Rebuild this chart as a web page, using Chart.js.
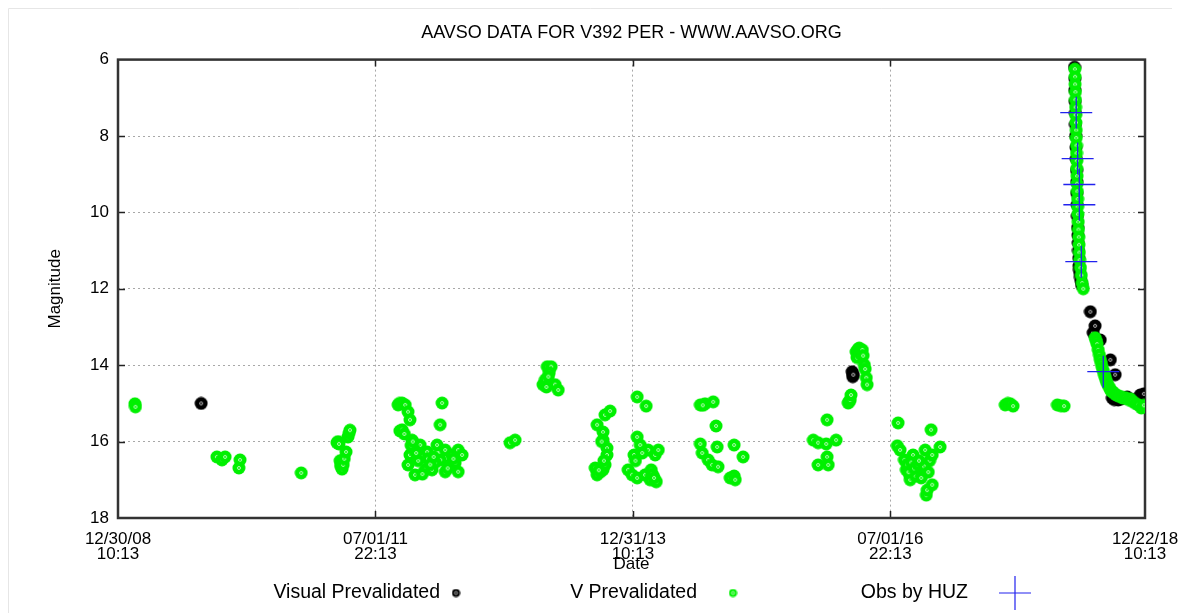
<!DOCTYPE html>
<html>
<head>
<meta charset="utf-8">
<title>V392 Per light curve</title>
<script src="https://cdn.jsdelivr.net/npm/chart.js@4.4.0/dist/chart.umd.min.js"></script>
<style>
  html, body { margin: 0; padding: 0; background: #fff; }
</style>
</head>
<body>
<canvas id="lightCurve" width="1183" height="613"></canvas>
<script>
// days counted from 12/30/08 10:13
const xTickDays = [0, 913.5, 1827, 2740.5, 3644];
const xTickLabels = [
  ['12/30/08', '10:13'],
  ['07/01/11', '22:13'],
  ['12/31/13', '10:13'],
  ['07/01/16', '22:13'],
  ['12/22/18', '10:13']
];
const yTicks = [6, 8, 10, 12, 14, 16, 18];

// Visual Prevalidated (black)
const visualDays = [295, 2605, 2607, 2609,
  3394, 3395, 3395, 3396, 3397, 3397, 3398, 3399, 3400, 3401, 3402, 3402, 3403, 3404, 3405,
  3406, 3407, 3408, 3409, 3410, 3411, 3413, 3415, 3417, 3419,
  3450, 3460, 3467, 3485, 3521, 3538, 3528, 3535, 3549, 3560, 3581, 3600, 3627, 3640];
const visualMags = [15.0, 14.17, 14.30, 14.25,
  6.2, 6.5, 6.8, 7.1, 7.4, 7.7, 8.0, 8.3, 8.6, 8.9, 9.2, 9.5, 9.8, 10.1, 10.4,
  10.6, 10.8, 11.0, 11.2, 11.4, 11.5, 11.6, 11.7, 11.8, 11.9,
  12.60, 13.15, 12.97, 13.34, 13.86, 14.25, 14.86, 14.90, 14.91, 14.88, 14.83, 14.90, 14.78, 14.75];

// V Prevalidated (green)
const vDays = [60, 62, 351, 369, 380, 433, 429, 650,
  777, 781, 784, 788, 790, 792, 795, 799, 803, 809, 816, 820, 823,
  994, 998, 1008, 1019, 1029, 1036, 1000, 1008, 1016, 1043, 1036, 1029, 1054, 1072, 1090, 1097, 1114, 1132,
  1143, 1150, 1143, 1161, 1161, 1178, 1185, 1196, 1207, 1207, 1221, 1065, 1080, 1125, 1050, 1058,
  1100, 1108, 1120, 1170, 1190, 1040, 1046,
  1391, 1409,
  1508, 1523, 1537, 1530, 1516, 1520, 1551, 1562, 1527,
  1693, 1700, 1700, 1711, 1721, 1721, 1721, 1728, 1728, 1735, 1735, 1746, 1716, 1724, 1706,
  1810, 1824, 1831, 1842, 1842, 1842, 1853, 1870, 1874, 1881, 1888, 1892, 1899, 1906, 1906, 1910, 1917,
  1836, 1860, 1895, 1902,
  2066, 2066, 2073, 2083, 2094, 2108, 2112, 2122, 2126, 2129, 2172, 2186, 2186, 2190, 2218, 2075,
  2467, 2484, 2484, 2513, 2516, 2516, 2520, 2548,
  2591, 2595, 2598, 2601, 2619, 2622, 2626, 2630, 2633, 2637, 2641, 2644, 2648, 2651, 2655, 2658,
  2765, 2768, 2775, 2790, 2797, 2800, 2810, 2811, 2821, 2830, 2846, 2855, 2864, 2868, 2871, 2880,
  2885, 2889, 2889, 2917, 2805, 2815, 2825, 2838, 2850, 2860, 2875, 2842,
  3148, 3157, 3166, 3176, 3333, 3345, 3357,
  3395, 3396, 3396, 3397, 3397, 3398, 3398, 3399, 3400, 3400, 3401, 3401, 3402, 3402, 3403, 3403,
  3404, 3405, 3405, 3406, 3407, 3408, 3409, 3410, 3411, 3412, 3415, 3418, 3421, 3425,
  3467, 3471, 3474, 3478, 3482, 3485, 3489, 3492, 3496, 3500, 3503, 3506, 3510, 3515, 3520, 3524,
  3530, 3535, 3542, 3549, 3557, 3566, 3575, 3585, 3592, 3600, 3610, 3620, 3631, 3640];
const vMags = [15.01, 15.09, 16.40, 16.48, 16.40, 16.48, 16.69, 16.82,
  16.03, 16.00, 16.06, 16.50, 16.60, 16.66, 16.72, 16.61, 16.45, 16.27, 15.88, 15.78, 15.70,
  15.04, 15.00, 14.99, 15.04, 15.22, 15.43, 15.72, 15.69, 15.80, 15.96, 16.35, 16.61, 16.87, 16.09, 16.74, 16.27, 16.74, 16.09,
  15.56, 14.99, 16.48, 16.22, 16.79, 16.61, 16.35, 16.56, 16.22, 16.79, 16.35, 16.50, 16.85, 16.55, 16.20, 16.30,
  16.45, 16.60, 16.40, 16.70, 16.45, 16.10, 16.00,
  16.03, 15.96,
  14.51, 14.04, 14.04, 14.20, 14.38, 14.57, 14.51, 14.65, 14.30,
  16.69, 15.56, 16.87, 16.80, 15.75, 15.96, 16.74, 15.30, 16.61, 16.17, 16.35, 15.20, 16.00, 16.50, 16.75,
  16.74, 16.87, 16.35, 14.83, 15.88, 16.95, 16.09, 16.87, 15.07, 16.22, 17.00, 16.74, 16.90, 16.35, 17.02, 17.05, 16.22,
  16.50, 16.30, 16.85, 16.95,
  15.04, 16.06, 16.30, 15.01, 16.48, 16.61, 14.96, 15.59, 16.14, 16.66, 16.95, 16.09, 16.90, 17.00, 16.40, 15.05,
  15.96, 16.03, 16.61, 16.06, 15.43, 16.40, 16.61, 15.96,
  14.99, 14.95, 14.91, 14.78, 13.65, 13.80, 13.58, 13.55, 13.70, 13.62, 13.60, 13.75, 13.99, 14.10, 14.33, 14.51,
  16.11, 15.51, 16.22, 16.48, 16.74, 16.60, 16.90, 17.00, 16.35, 16.90, 16.74, 16.85, 16.22, 17.40, 17.27, 16.50,
  15.69, 16.35, 17.13, 16.14, 16.80, 16.55, 16.70, 16.60, 16.95, 16.65, 16.80, 16.50,
  15.04, 15.00, 15.01, 15.07, 15.04, 15.06, 15.07,
  6.25, 6.45, 6.65, 6.85, 7.05, 7.25, 7.45, 7.65, 7.85, 8.05, 8.25, 8.45, 8.65, 8.85, 9.05, 9.25,
  9.45, 9.65, 9.85, 10.05, 10.25, 10.45, 10.65, 10.85, 11.05, 11.25, 11.45, 11.65, 11.85, 12.00,
  13.28, 13.36, 13.45, 13.60, 13.73, 13.85, 13.95, 14.05, 14.15, 14.25, 14.32, 14.40, 14.48, 14.55, 14.62, 14.68,
  14.70, 14.74, 14.78, 14.80, 14.82, 14.86, 14.85, 14.90, 14.88, 14.95, 15.00, 15.04, 15.12, 15.05];

// Obs by HUZ (blue crosses)
const huzDays = [3400, 3405, 3411, 3411, 3418, 3496];
const huzMags = [7.39, 8.59, 9.27, 9.80, 11.29, 14.17];

const pairs = (xs, ys) => xs.map((x, i) => ({ x: x, y: ys[i] }));

function makeMarker(fill, size) {
  const c = document.createElement('canvas');
  c.width = c.height = size;
  const g = c.getContext('2d');
  const r = size / 2;
  g.fillStyle = fill;
  g.beginPath();
  g.arc(r, r, r - 0.5, 0, Math.PI * 2);
  g.fill();
  g.strokeStyle = 'rgba(255,255,255,0.7)';
  g.lineWidth = 1;
  g.beginPath();
  g.arc(r, r, 1.5, 0, Math.PI * 2);
  g.stroke();
  return c;
}

const GREEN = '#00f000';
const BLUE = '#2222ee';
const greenDot = makeMarker(GREEN, 14);
const blackDot = makeMarker('#000000', 14);
const greenKey = makeMarker(GREEN, 9);
const blackKey = makeMarker('#000000', 9);

const FONT = '"Liberation Sans", Arial, sans-serif';
Chart.defaults.font.family = FONT;
Chart.defaults.color = '#000';

// frame with inward tick marks, like the original plot
const frame = {
  id: 'frame',
  beforeDraw(chart) {
    const c = chart.ctx;
    c.save();
    c.fillStyle = '#fff';
    c.fillRect(0, 0, chart.width, chart.height);
    // faint page edge seen at the top left of the original
    c.strokeStyle = '#e6e6e6';
    c.lineWidth = 1;
    c.beginPath();
    c.moveTo(8.5, chart.height); c.lineTo(8.5, 8.5); c.lineTo(1172, 8.5);
    c.stroke();
    c.restore();
  },
  beforeDatasetsDraw(chart) {
    const { ctx, chartArea: a, scales } = chart;
    ctx.save();
    ctx.strokeStyle = '#222';
    ctx.lineWidth = 1.5;
    xTickDays.slice(1, -1).forEach(d => {
      const px = Math.round(scales.x.getPixelForValue(d)) + 0.5;
      ctx.beginPath();
      ctx.moveTo(px, a.bottom); ctx.lineTo(px, a.bottom - 7);
      ctx.moveTo(px, a.top); ctx.lineTo(px, a.top + 7);
      ctx.stroke();
    });
    yTicks.slice(1, -1).forEach(m => {
      const py = Math.round(scales.y.getPixelForValue(m)) + 0.5;
      ctx.beginPath();
      ctx.moveTo(a.left, py); ctx.lineTo(a.left + 7, py);
      ctx.moveTo(a.right, py); ctx.lineTo(a.right - 7, py);
      ctx.stroke();
    });
    ctx.strokeStyle = '#333';
    ctx.lineWidth = 2.5;
    ctx.strokeRect(a.left, a.top, a.right - a.left, a.bottom - a.top);
    ctx.restore();
  }
};

// legend in the gnuplot layout: text first, sample after it
const keyRow = {
  id: 'keyRow',
  afterDraw(chart) {
    const ctx = chart.ctx;
    const y = 593;
    const items = [
      { textRight: 440, symX: 456, img: blackKey },
      { textRight: 697, symX: 733, img: greenKey },
      { textRight: 968, symX: 1015, cross: true }
    ];
    ctx.save();
    ctx.font = '19.5px ' + FONT;
    ctx.fillStyle = '#000';
    ctx.textAlign = 'right';
    ctx.textBaseline = 'middle';
    chart.data.datasets.forEach((ds, i) => {
      const it = items[i];
      ctx.fillText(ds.label, it.textRight, y);
      if (it.cross) {
        ctx.strokeStyle = BLUE;
        ctx.lineWidth = 1.2;
        ctx.beginPath();
        ctx.moveTo(it.symX - 16, y); ctx.lineTo(it.symX + 16, y);
        ctx.moveTo(it.symX, y - 17); ctx.lineTo(it.symX, y + 17);
        ctx.stroke();
      } else {
        ctx.drawImage(it.img, it.symX - it.img.width / 2, y - it.img.height / 2);
      }
    });
    ctx.restore();
  }
};

const gridColor = ends => ctx => (ends.includes(ctx.tick.value) ? 'rgba(0,0,0,0)' : '#a8a8a8');

new Chart(document.getElementById('lightCurve'), {
  type: 'scatter',
  data: {
    datasets: [
      {
        label: 'Visual Prevalidated',
        data: pairs(visualDays, visualMags),
        pointStyle: blackDot,
        order: 2
      },
      {
        label: 'V Prevalidated',
        data: pairs(vDays, vMags),
        pointStyle: greenDot,
        order: 1
      },
      {
        label: 'Obs by HUZ',
        data: pairs(huzDays, huzMags),
        pointStyle: 'cross',
        pointRadius: 16,
        borderColor: BLUE,
        borderWidth: 1.3,
        order: 0
      }
    ]
  },
  options: {
    responsive: false,
    animation: false,
    layout: { padding: { left: 0, right: 38, top: 0, bottom: 0 } },
    plugins: {
      legend: { display: false },
      tooltip: { enabled: false },
      title: {
        display: true,
        fullSize: false,
        text: 'AAVSO DATA FOR V392 PER - WWW.AAVSO.ORG',
        font: { size: 18, weight: 'normal' },
        color: '#000',
        padding: { top: 22, bottom: 16 }
      }
    },
    scales: {
      x: {
        type: 'linear',
        min: 0,
        max: 3644,
        afterFit: s => { s.height = 95; s.paddingLeft = 0; s.paddingRight = 0; },
        afterBuildTicks: s => { s.ticks = xTickDays.map(v => ({ value: v })); },
        ticks: {
          autoSkip: false,
          maxRotation: 0,
          padding: 14,
          font: { size: 17, lineHeight: 0.88 },
          color: '#000',
          callback: (v, i) => xTickLabels[i]
        },
        grid: { color: gridColor([0, 3644]), drawTicks: false, lineWidth: 1 },
        border: { display: false, dash: [2, 3] },
        title: {
          display: true,
          text: 'Date',
          font: { size: 17 },
          color: '#000',
          padding: { bottom: 38 }
        }
      },
      y: {
        reverse: true,
        min: 6,
        max: 18,
        afterFit: s => { s.width = 118; s.paddingTop = 0; s.paddingBottom = 0; },
        afterBuildTicks: s => { s.ticks = yTicks.map(v => ({ value: v })); },
        ticks: { padding: 9, font: { size: 17 }, color: '#000' },
        grid: { color: gridColor([6, 18]), drawTicks: false, lineWidth: 1 },
        border: { display: false, dash: [2, 3] },
        title: {
          display: true,
          text: 'Magnitude',
          font: { size: 17 },
          color: '#000',
          padding: { top: 45 }
        }
      }
    }
  },
  plugins: [frame, keyRow]
});
</script>
</body>
</html>
